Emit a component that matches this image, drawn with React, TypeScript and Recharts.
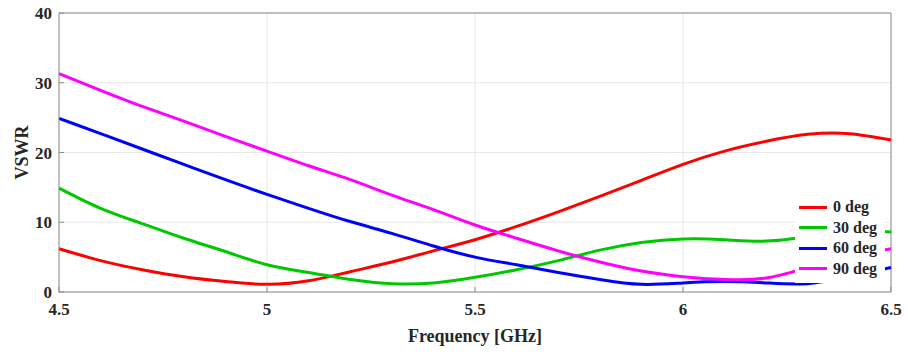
import { LineChart, Line, XAxis, YAxis, CartesianGrid, ReferenceLine } from 'recharts'

// frequency sweep in GHz
const freq = [4.5, 4.6, 4.7, 4.8, 4.9, 5.0, 5.1, 5.2, 5.3, 5.4, 5.5, 5.6, 5.7, 5.8, 5.9, 6.0, 6.1, 6.2, 6.3, 6.4, 6.5]

// VSWR per incidence angle
const deg0 = [6.2, 4.5, 3.2, 2.2, 1.5, 1.1, 1.6, 2.9, 4.3, 5.9, 7.5, 9.4, 11.5, 13.7, 16.0, 18.3, 20.2, 21.6, 22.6, 22.7, 21.8]
const deg30 = [14.9, 12.0, 9.8, 7.7, 5.8, 3.9, 2.8, 1.8, 1.2, 1.3, 2.1, 3.2, 4.5, 6.0, 7.1, 7.6, 7.5, 7.3, 8.0, 8.8, 8.6]
const deg60 = [24.9, 22.7, 20.5, 18.3, 16.1, 14.0, 12.0, 10.1, 8.4, 6.6, 5.0, 3.9, 2.8, 1.8, 1.1, 1.3, 1.5, 1.3, 1.2, 2.2, 3.5]
const deg90 = [31.3, 28.9, 26.6, 24.5, 22.3, 20.2, 18.1, 16.1, 13.9, 11.8, 9.6, 7.7, 5.9, 4.3, 3.0, 2.2, 1.8, 2.0, 3.5, 5.0, 6.2]

const xTicks = [4.5, 5, 5.5, 6, 6.5]
const xTickLabels = ['4.5', '5', '5.5', '6', '6.5']
const yTicks = [0, 10, 20, 30, 40]

const series = [
  { key: 'd0', name: '0 deg', values: deg0, color: '#ff0000' },
  { key: 'd30', name: '30 deg', values: deg30, color: '#00c800' },
  { key: 'd60', name: '60 deg', values: deg60, color: '#0000ff' },
  { key: 'd90', name: '90 deg', values: deg90, color: '#ff00ff' },
]

const data = freq.map((f, i) => {
  const row: Record<string, number> = { f }
  series.forEach(s => { row[s.key] = s.values[i] })
  return row
})

const FONT = '"Liberation Serif", "Times New Roman", serif'
const INK = '#262626'
const FRAME = '#8c8c8c'

// legend box sits on top of the plot, lower right corner
function AngleLegend() {
  return (
    <div
      style={{
        position: 'absolute', left: 795, top: 195, width: 86,
        background: '#fff', padding: '2px 0 4px 4px', fontFamily: FONT, fontWeight: 700,
      }}
    >
      {series.map(s => (
        <div key={s.key} style={{ display: 'flex', alignItems: 'center', height: 20.5 }}>
          <span style={{ width: 28, height: 3, background: s.color, marginRight: 6 }} />
          <span style={{ fontSize: 16, color: INK, lineHeight: '16px' }}>{s.name}</span>
        </div>
      ))}
    </div>
  )
}

export default function App() {
  return (
    <div style={{ position: 'absolute', left: 0, top: 0, width: 908, height: 354, background: '#fff' }}>
      <LineChart width={908} height={354} data={data} margin={{ top: 13, right: 17, bottom: 0, left: 0 }}>
        <CartesianGrid stroke="#e8e8e8" strokeWidth={1} />
        <XAxis
          type="number"
          dataKey="f"
          domain={[4.5, 6.5]}
          ticks={xTicks}
          tickFormatter={(v: number) => xTickLabels[xTicks.indexOf(v)] ?? String(v)}
          height={62}
          stroke={FRAME}
          tickSize={-5}
          tickMargin={16}
          tick={{ fill: INK, fontSize: 17, fontWeight: 700, fontFamily: FONT }}
          label={{ value: 'Frequency [GHz]', position: 'insideBottom', offset: 12, fill: INK, fontSize: 18, fontWeight: 700, fontFamily: FONT }}
        />
        <YAxis
          type="number"
          domain={[0, 40]}
          ticks={yTicks}
          width={59}
          stroke={FRAME}
          tickSize={-5}
          tickMargin={12}
          tick={{ fill: INK, fontSize: 17, fontWeight: 700, fontFamily: FONT }}
          label={{ value: 'VSWR', angle: -90, position: 'insideLeft', offset: 22, fill: INK, fontSize: 18, fontWeight: 700, fontFamily: FONT, style: { textAnchor: 'middle' } }}
        />
        <ReferenceLine y={40} stroke={FRAME} />
        <ReferenceLine x={6.5} stroke={FRAME} />
        {series.map(s => (
          <Line
            key={s.key}
            dataKey={s.key}
            name={s.name}
            type="natural"
            stroke={s.color}
            strokeWidth={3}
            dot={false}
            isAnimationActive={false}
          />
        ))}
      </LineChart>
      <AngleLegend />
    </div>
  )
}
